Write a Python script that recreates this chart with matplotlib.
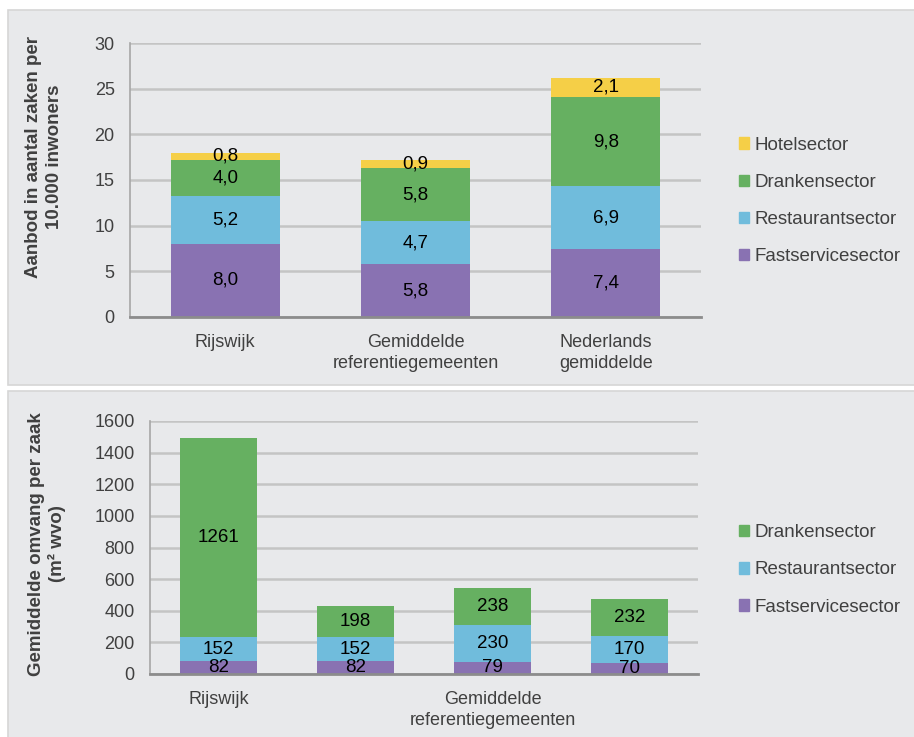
import matplotlib
matplotlib.use('Agg')
import matplotlib.pyplot as plt
from matplotlib.patches import Rectangle, Patch

plt.rcParams['font.family'] = ['Liberation Sans', 'DejaVu Sans']

# --- data: top panel (aanbod per 10.000 inwoners) ---
top_cats = ['Rijswijk', 'Gemiddelde\nreferentiegemeenten', 'Nederlands\ngemiddelde']
top_fast = [8.0, 5.8, 7.4]
top_rest = [5.2, 4.7, 6.9]
top_drank = [4.0, 5.8, 9.8]
top_hotel = [0.8, 0.9, 2.1]

# --- data: bottom panel (gemiddelde omvang per zaak, m2 wvo) ---
bot_ticks = ['Rijswijk', '', 'Gemiddelde\nreferentiegemeenten', '']
bot_fast = [82, 82, 79, 70]
bot_rest = [152, 152, 230, 170]
bot_drank = [1261, 198, 238, 232]

C_HOTEL = '#F5CF47'
C_DRANK = '#66B061'
C_REST = '#70BCDC'
C_FAST = '#8972B2'
BG = '#E8E9EB'
TXT = '#404040'

W, H = 914, 737
fig = plt.figure(figsize=(W / 100, H / 100), dpi=100)
fig.patch.set_facecolor('white')


def px(x0, y0, x1, y1):
    # pixel box (top-left origin) -> figure fraction rect
    return [x0 / W, 1 - y1 / H, (x1 - x0) / W, (y1 - y0) / H]


# grey panel boxes
for (y0, y1) in [(10, 385), (391, 740)]:
    fig.patches.append(Rectangle((8 / W, 1 - y1 / H), (W + 5 - 8) / W, (y1 - y0) / H,
                                 transform=fig.transFigure, facecolor=BG,
                                 edgecolor='#D6D6D6', lw=1.2, zorder=-5))


def style_axes(ax):
    ax.set_zorder(3)
    ax.set_facecolor('none')
    for s in ['top', 'right']:
        ax.spines[s].set_visible(False)
    ax.spines['left'].set_color('#A6A6A6')
    ax.spines['bottom'].set_color('#8C8C8C')
    ax.spines['left'].set_linewidth(1.2)
    ax.spines['bottom'].set_linewidth(2.0)
    ax.yaxis.grid(True, color='#C4C4C4', lw=1.8)
    ax.set_axisbelow(True)
    ax.tick_params(length=0, labelsize=13, colors=TXT, pad=11)
    ax.tick_params(axis='x', pad=12)


def stack(ax, xs, layers, width, fmt):
    bottom = [0] * len(xs)
    for vals, col in layers:
        ax.bar(xs, vals, width, bottom=bottom, color=col, zorder=2)
        for x, b, v in zip(xs, bottom, vals):
            ax.text(x, b + v / 2, fmt(v), ha='center', va='center',
                    fontsize=13.5, color='black', zorder=3)
        bottom = [b + v for b, v in zip(bottom, vals)]


# ---- top chart ----
ax1 = fig.add_axes(px(130, 43, 701, 317))
style_axes(ax1)
x1 = list(range(len(top_cats)))
stack(ax1, x1, [(top_fast, C_FAST), (top_rest, C_REST),
                (top_drank, C_DRANK), (top_hotel, C_HOTEL)], 0.573,
      lambda v: ('%.1f' % v).replace('.', ','))
ax1.set_xlim(-0.5, 2.5)
ax1.set_ylim(0, 30)
ax1.set_yticks(range(0, 31, 5))
ax1.set_xticks(x1)
ax1.set_xticklabels(top_cats, linespacing=1.3)

fig.text(44 / W, 1 - 157 / H, 'Aanbod in aantal zaken per\n10.000 inwoners',
         rotation=90, ha='center', va='center', fontsize=13.5, fontweight='bold',
         color=TXT, linespacing=1.25)

leg_kw = dict(loc='center left', frameon=False, fontsize=13.5, labelcolor=TXT,
              handlelength=0.55, handleheight=0.55, handletextpad=0.25,
              labelspacing=1.08, borderpad=0, borderaxespad=0)

hd1 = [Patch(color=C_HOTEL), Patch(color=C_DRANK), Patch(color=C_REST), Patch(color=C_FAST)]
fig.legend(hd1, ['Hotelsector', 'Drankensector', 'Restaurantsector', 'Fastservicesector'],
           bbox_to_anchor=(739 / W, 1 - 201 / H), **leg_kw)

# ---- bottom chart ----
ax2 = fig.add_axes(px(150, 421, 698, 674))
style_axes(ax2)
x2 = list(range(len(bot_fast)))
stack(ax2, x2, [(bot_fast, C_FAST), (bot_rest, C_REST), (bot_drank, C_DRANK)], 0.562,
      lambda v: '%d' % v)
ax2.set_xlim(-0.5, 3.5)
ax2.set_ylim(0, 1600)
ax2.set_yticks(range(0, 1601, 200))
ax2.set_xticks(x2)
ax2.set_xticklabels(bot_ticks, linespacing=1.3)

fig.text(47 / W, 1 - 544 / H, 'Gemiddelde omvang per zaak\n(m² wvo)',
         rotation=90, ha='center', va='center', fontsize=13.5, fontweight='bold',
         color=TXT, linespacing=1.25)

hd2 = [Patch(color=C_DRANK), Patch(color=C_REST), Patch(color=C_FAST)]
fig.legend(hd2, ['Drankensector', 'Restaurantsector', 'Fastservicesector'],
           bbox_to_anchor=(739 / W, 1 - 570 / H), **leg_kw)

fig.savefig('out.png', dpi=100)
